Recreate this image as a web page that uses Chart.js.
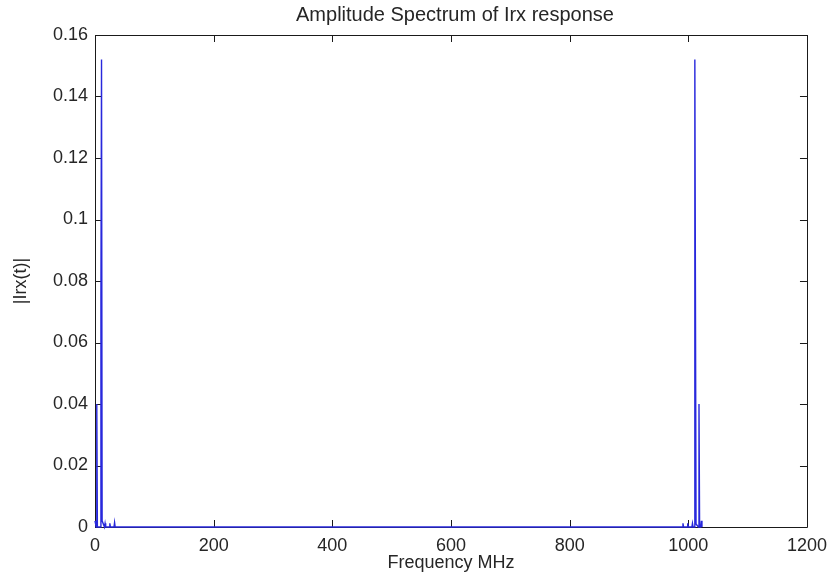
<!DOCTYPE html>
<html>
<head>
<meta charset="utf-8">
<script src="https://cdn.jsdelivr.net/npm/chart.js@4.4.1/dist/chart.umd.min.js"></script>
<style>
  html, body { margin: 0; padding: 0; background: #fff; }
  #chart { display: block; }
</style>
</head>
<body>
<canvas id="chart" width="835" height="584"></canvas>
<script>
// amplitude spectrum (MHz, |Irx|)
const freqMHz = [0, 1, 2, 3, 4, 9, 10, 11, 12, 16, 17, 18, 24, 25, 26, 32, 33, 34,
                 990, 991, 992, 998, 999, 1000, 1006, 1007, 1008,
                 1010, 1011, 1012, 1013, 1017, 1018, 1019, 1021, 1022, 1023];
const amplitude = [0.002, 0.001, 0, 0.04, 0, 0, 0.076, 0.152, 0.002, 0, 0.0012, 0, 0, 0.0012, 0, 0, 0.0015, 0,
                   0, 0.0012, 0, 0, 0.0012, 0, 0, 0.0012, 0,
                   0, 0.152, 0.076, 0.001, 0, 0.04, 0, 0, 0.002, 0];
const xTicks = [0, 200, 400, 600, 800, 1000, 1200];
const yTicks = [0, 0.02, 0.04, 0.06, 0.08, 0.1, 0.12, 0.14, 0.16];
const chartTitle = 'Amplitude Spectrum of Irx response';

const points = freqMHz.map((f, i) => ({ x: f, y: amplitude[i] }));

const FONT = "'Liberation Sans', Arial, sans-serif";
const TEXT = '#262626';

// matlab style box with inward ticks on all four sides, title centred on the axes
const boxPlugin = {
  id: 'matlabBox',
  beforeDatasetsDraw(chart) {
    const ctx = chart.ctx;
    const a = chart.chartArea;
    const xs = chart.scales.x, ys = chart.scales.y;
    const len = 7;
    ctx.save();
    ctx.strokeStyle = '#1a1a1a';
    ctx.lineWidth = 1;
    ctx.beginPath();
    ctx.rect(Math.round(a.left) + 0.5, Math.round(a.top) + 0.5,
             Math.round(a.right - a.left), Math.round(a.bottom - a.top));
    xTicks.forEach(v => {
      const px = Math.round(xs.getPixelForValue(v)) + 0.5;
      ctx.moveTo(px, a.bottom); ctx.lineTo(px, a.bottom - len);
      ctx.moveTo(px, a.top); ctx.lineTo(px, a.top + len);
    });
    yTicks.forEach(v => {
      const py = Math.round(ys.getPixelForValue(v)) + 0.5;
      ctx.moveTo(a.left, py); ctx.lineTo(a.left + len, py);
      ctx.moveTo(a.right, py); ctx.lineTo(a.right - len, py);
    });
    ctx.stroke();

    ctx.fillStyle = TEXT;
    ctx.font = '20px ' + FONT;
    ctx.textAlign = 'center';
    ctx.textBaseline = 'middle';
    ctx.fillText(chartTitle, (a.left + a.right) / 2 + 4, 15);
    ctx.restore();
  }
};

const ctx = document.getElementById('chart').getContext('2d');
const myChart = new Chart(ctx, {
  type: 'line',
  data: {
    datasets: [{
      label: '|Irx(t)|',
      data: points,
      borderColor: 'rgb(40, 40, 220)',
      borderWidth: 1.4,
      pointRadius: 0,
      tension: 0,
      clip: false
    }]
  },
  options: {
    responsive: false,
    animation: false,
    layout: { padding: { left: 0, right: 23, top: 35, bottom: 0 } },
    plugins: {
      legend: { display: false },
      tooltip: { enabled: false },
      title: { display: false }
    },
    scales: {
      x: {
        type: 'linear',
        min: 0,
        max: 1200,
        afterBuildTicks: s => { s.ticks = xTicks.map(v => ({ value: v })); },
        afterFit: s => { s.height = 57; },
        grid: { display: false, drawTicks: false },
        border: { display: false },
        ticks: {
          color: TEXT,
          padding: 8,
          maxRotation: 0,
          font: { family: FONT, size: 18 },
          callback: v => String(v)
        },
        title: {
          display: true,
          text: 'Frequency MHz',
          color: TEXT,
          font: { family: FONT, size: 18 },
          padding: { top: 0, bottom: 10 }
        }
      },
      y: {
        min: 0,
        max: 0.16,
        afterBuildTicks: s => { s.ticks = yTicks.map(v => ({ value: v })); },
        afterFit: s => { s.width = 95; },
        grid: { display: false, drawTicks: false },
        border: { display: false },
        ticks: {
          color: TEXT,
          padding: 7,
          font: { family: FONT, size: 18 },
          callback: v => String(Number(v.toFixed(2)))
        },
        title: {
          display: true,
          text: '|Irx(t)|',
          color: TEXT,
          font: { family: FONT, size: 18 },
          padding: { top: 10, bottom: 0 }
        }
      }
    }
  },
  plugins: [boxPlugin]
});
</script>
</body>
</html>
